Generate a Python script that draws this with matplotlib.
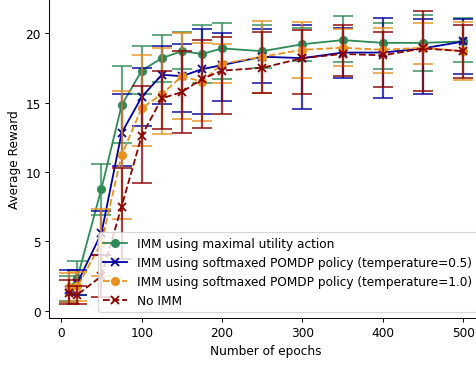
import numpy as np
import matplotlib
matplotlib.use("Agg")
import matplotlib.pyplot as plt

# epochs
epochs = [10, 20, 50, 75, 100, 125, 150, 175, 200, 250, 300, 350, 400, 450, 500]

# IMM using maximal utility action
max_util = [1.6, 2.35, 8.8, 14.8, 17.3, 18.2, 18.7, 18.5, 18.9, 18.7, 19.2, 19.5, 19.3, 19.3, 19.4]
max_util_lo = [0.7, 1.1, 6.9, 12.1, 15.6, 16.5, 17.4, 16.4, 16.7, 17.5, 18.0, 17.9, 17.4, 17.3, 17.9]
max_util_hi = [2.5, 3.6, 10.6, 17.6, 19.1, 19.9, 20.1, 20.6, 20.7, 20.6, 20.4, 21.2, 20.7, 21.3, 21.1]

# softmax temperature 0.5
soft05 = [1.5, 2.0, 5.6, 12.8, 15.4, 17.0, 16.9, 17.4, 17.7, 18.3, 18.2, 18.6, 18.6, 18.9, 19.4]
soft05_lo = [0.6, 1.1, 4.0, 10.4, 13.3, 14.9, 14.3, 14.2, 15.1, 16.4, 14.5, 16.8, 15.3, 15.6, 17.05]
soft05_hi = [2.9, 2.9, 7.2, 15.6, 17.5, 19.1, 19.2, 20.3, 20.0, 20.3, 20.6, 20.4, 21.1, 21.0, 21.0]

# softmax temperature 1.0
soft10 = [1.7, 1.75, 4.9, 11.2, 14.6, 15.6, 16.9, 16.5, 17.8, 18.3, 18.8, 18.95, 18.8, 18.95, 18.7]
soft10_lo = [0.6, 0.7, 2.5, 6.6, 11.9, 12.7, 13.8, 13.7, 16.4, 15.7, 16.8, 17.6, 17.1, 17.8, 16.6]
soft10_hi = [2.75, 2.8, 7.3, 15.8, 18.4, 18.9, 20.0, 19.3, 19.2, 20.9, 20.8, 20.3, 20.4, 20.7, 20.8]

# no IMM
no_imm = [1.25, 1.15, 2.5, 7.5, 12.6, 15.3, 15.75, 16.7, 17.3, 17.5, 18.2, 18.5, 18.4, 18.9, 18.7]
no_imm_lo = [0.5, 0.5, 1.0, 3.7, 9.2, 13.1, 12.8, 13.2, 14.2, 15.7, 15.6, 16.9, 16.1, 15.85, 16.8]
no_imm_hi = [2.2, 1.8, 4.0, 10.3, 16.2, 17.3, 18.7, 19.5, 19.7, 20.1, 20.2, 20.6, 20.1, 21.6, 20.6]

series = [
    (max_util, max_util_lo, max_util_hi, "#2e8b57", "o", "-", "IMM using maximal utility action"),
    (soft05, soft05_lo, soft05_hi, "#00009e", "x", "-", "IMM using softmaxed POMDP policy (temperature=0.5)"),
    (soft10, soft10_lo, soft10_hi, "#e8911e", "o", "--", "IMM using softmaxed POMDP policy (temperature=1.0)"),
    (no_imm, no_imm_lo, no_imm_hi, "#8b0000", "x", "--", "No IMM"),
]

DPI = 87
fig = plt.figure(figsize=(476 / DPI, 367 / DPI), dpi=DPI)
ax = fig.add_axes([49.3 / 476, 48 / 367, 433.7 / 476, 319 / 367])

x = np.array(epochs)
for mean, lo, hi, col, mk, ls, lab in series:
    mean = np.array(mean)
    yerr = [mean - np.array(lo), np.array(hi) - mean]
    ax.errorbar(x, mean, yerr=yerr, fmt="none", ecolor=col, elinewidth=1.8,
                capsize=8.5, capthick=1.6, alpha=0.75)
    ax.plot(x, mean, color=col, marker=mk, linestyle=ls, lw=1.5,
            markersize=6, markeredgewidth=1.5, label=lab)

ax.set_xlim(-14.9, 524.5)
ax.set_ylim(-0.526, 22.46)
ax.set_xticks([0, 100, 200, 300, 400, 500])
ax.set_yticks([0, 5, 10, 15, 20])
ax.spines["top"].set_visible(False)
ax.spines["right"].set_visible(False)

ax.set_xlabel("Number of epochs")
ax.set_ylabel("Average Reward")
ax.legend(loc="lower right")

fig.savefig("out.png", dpi=DPI)
